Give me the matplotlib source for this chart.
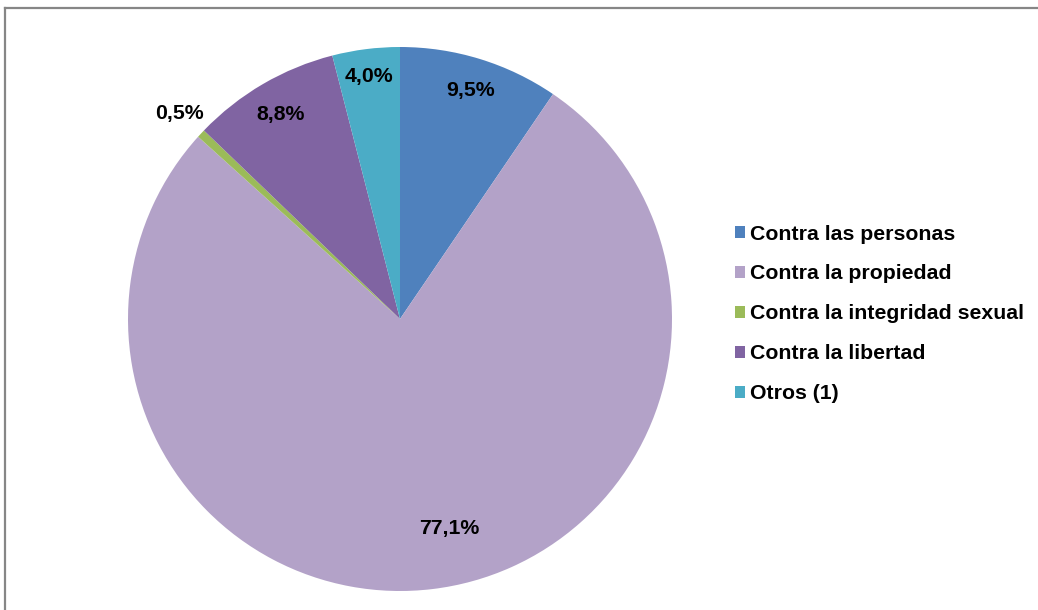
import numpy as np
import matplotlib
matplotlib.use("Agg")
import matplotlib.pyplot as plt
from matplotlib.patches import Patch
from matplotlib.lines import Line2D

categories = ["Contra las personas", "Contra la propiedad", "Contra la integridad sexual",
              "Contra la libertad", "Otros (1)"]
values = [9.5, 77.1, 0.5, 8.8, 4.0]
labels = ["9,5%", "77,1%", "0,5%", "8,8%", "4,0%"]
colors = ["#4F81BD", "#B3A2C8", "#9BBB59", "#8064A2", "#4BACC6"]

# label placement style (radius factor, angle nudge in degrees)
label_r = [0.88, 0.79, 1.11, 0.87, 0.90]
label_dtheta = [0, 6.4, 0, 0, 0]

plt.rcParams['font.family'] = ['Liberation Sans', 'DejaVu Sans']
W, H = 1038, 610
fig = plt.figure(figsize=(W / 100, H / 100), dpi=100)

cx, cy, R = 400, 319, 272
ax = fig.add_axes([(cx - R) / W, (H - cy - R) / H, 2 * R / W, 2 * R / H])
wedges, _ = ax.pie(values, colors=colors, startangle=90, counterclock=False,
                   radius=1, wedgeprops=dict(linewidth=0))
ax.set_xlim(-1, 1)
ax.set_ylim(-1, 1)
ax.set_aspect('equal')
ax.axis('off')

FS = 15.3
for w, lab, r, dt in zip(wedges, labels, label_r, label_dtheta):
    mid = np.deg2rad((w.theta1 + w.theta2) / 2 + dt)
    ax.text(r * np.cos(mid), r * np.sin(mid), lab, ha='center', va='center',
            fontsize=FS, fontweight='bold', color='black', clip_on=False)

handles = [Patch(facecolor=c, edgecolor='none') for c in colors]
leg = fig.legend(handles, categories, loc='upper left',
                 bbox_to_anchor=(735 / W, 1 - 224.5 / H),
                 frameon=False, prop=dict(size=FS, weight='bold'),
                 handlelength=0.47, handleheight=0.47, handletextpad=0.25,
                 labelspacing=0.985, borderpad=0, borderaxespad=0)

# outer frame (top and left visible)
fig.add_artist(Line2D([5 / W, 1], [1 - 8 / H, 1 - 8 / H], color='#868686', lw=1.6,
                      transform=fig.transFigure))
fig.add_artist(Line2D([5 / W, 5 / W], [0, 1 - 8 / H], color='#868686', lw=1.6,
                      transform=fig.transFigure))

fig.savefig("out.png", dpi=100)
